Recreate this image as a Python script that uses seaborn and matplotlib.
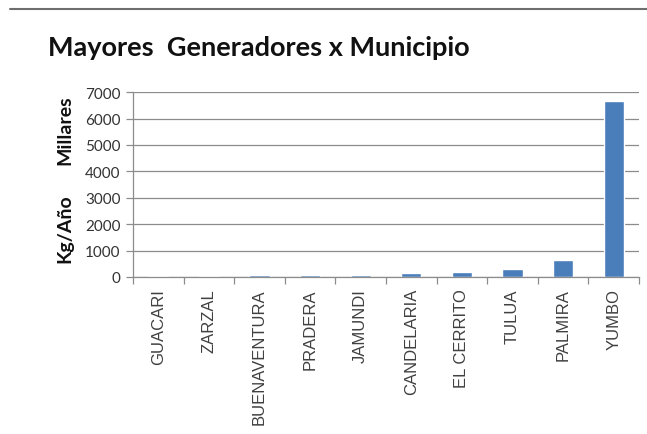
import matplotlib
matplotlib.use("Agg")
import matplotlib.pyplot as plt
import seaborn as sns
import pandas as pd
from matplotlib.lines import Line2D
from matplotlib.ticker import MultipleLocator, FixedLocator

municipios = ["GUACARI", "ZARZAL", "BUENAVENTURA", "PRADERA", "JAMUNDI",
              "CANDELARIA", "EL CERRITO", "TULUA", "PALMIRA", "YUMBO"]
valores = [45, 45, 90, 90, 85, 150, 200, 320, 650, 6650]
yticks = [0, 1000, 2000, 3000, 4000, 5000, 6000, 7000]
titulo = "Mayores  Generadores x Municipio"

sns.set_theme(style="white")
plt.rcParams["font.family"] = ["Liberation Sans", "DejaVu Sans"]

df = pd.DataFrame({"Municipio": municipios, "Valor": valores})

fig = plt.figure(figsize=(6.47, 4.35), dpi=100)
ax = fig.add_axes([0.2056, 0.361, 0.782, 0.425])

sns.barplot(data=df, x="Municipio", y="Valor", color="#4a7ebb", width=0.4,
            saturation=1, ax=ax)

ax.set_ylim(0, 7000)
ax.set_xlim(-0.5, len(municipios) - 0.5)
ax.yaxis.set_major_locator(FixedLocator(yticks))
ax.set_yticklabels([str(v) for v in yticks], fontsize=11, color="#333333",
                   family=["Lato", "DejaVu Sans"])
ax.grid(axis="y", color="#8c8c8c", linewidth=0.9)
ax.set_axisbelow(True)

ax.set_xticks(range(len(municipios)))
ax.set_xticklabels(municipios, rotation=90, fontsize=12, color="#404040")
ax.tick_params(axis="x", length=0, pad=8)
ax.xaxis.set_minor_locator(MultipleLocator(1, offset=0.5))
ax.tick_params(axis="x", which="minor", length=5, color="#8c8c8c", width=0.9, bottom=True)
ax.tick_params(axis="y", length=5, color="#8c8c8c", width=0.9, left=True, pad=4)

for s in ["top", "right"]:
    ax.spines[s].set_visible(False)
for s in ["left", "bottom"]:
    ax.spines[s].set_color("#8c8c8c")
    ax.spines[s].set_linewidth(0.9)

ax.set_xlabel("")
ax.set_ylabel("")

fig.text(0.40, 0.89, titulo, ha="center", va="center", fontsize=19.5,
         fontweight="bold", family=["Lato", "DejaVu Sans"], color="#111111")
fig.text(0.10, 0.475, "Kg/Año", rotation=90, ha="center", va="center",
         fontsize=14, fontweight="bold", family=["Lato", "DejaVu Sans"], color="#111111")
fig.text(0.10, 0.70, "Millares", rotation=90, ha="center", va="center",
         fontsize=14, fontweight="bold", family=["Lato", "DejaVu Sans"], color="#111111")

fig.add_artist(Line2D([0.015, 1.0], [0.977, 0.977], color="#6e6e6e", linewidth=1.5))

fig.savefig("out.png", dpi=100, facecolor="white")
